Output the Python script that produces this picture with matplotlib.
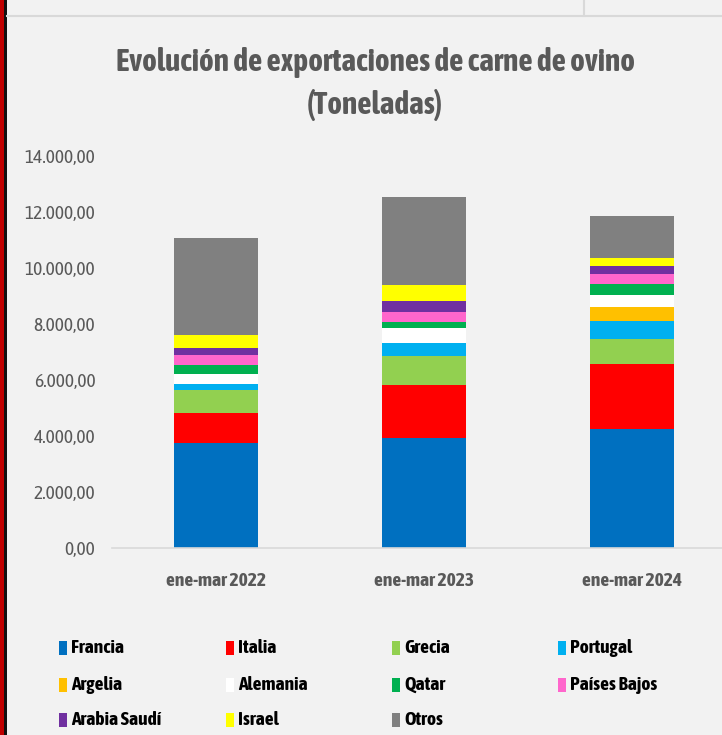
import matplotlib
matplotlib.use("Agg")
import matplotlib.pyplot as plt
from matplotlib.patches import Rectangle
from matplotlib.lines import Line2D
from matplotlib.ticker import FuncFormatter

plt.rcParams['font.family'] = ['Asap Condensed', 'Carlito', 'DejaVu Sans']

categories = ["ene-mar 2022", "ene-mar 2023", "ene-mar 2024"]
series_names = ["Francia", "Italia", "Grecia", "Portugal", "Argelia", "Alemania",
                "Qatar", "Países Bajos", "Arabia Saudí", "Israel", "Otros"]
francia = [3740, 3917, 4238]
italia = [1095, 1893, 2345]
grecia = [810, 1047, 893]
portugal = [225, 464, 643]
argelia = [0, 0, 488]
alemania = [345, 536, 417]
qatar = [335, 214, 393]
paises_bajos = [357, 358, 381]
arabia_saudi = [238, 381, 285]
israel = [453, 595, 286]
otros = [3464, 3119, 1476]
series_values = [francia, italia, grecia, portugal, argelia, alemania,
                 qatar, paises_bajos, arabia_saudi, israel, otros]
colors = ["#0070c0", "#ff0000", "#92d050", "#00b0f0", "#ffc000", "#ffffff",
          "#00b050", "#ff66cc", "#7030a0", "#ffff00", "#808080"]
yticks = [0, 2000, 4000, 6000, 8000, 10000, 12000, 14000]

W, H = 722, 735
fig = plt.figure(figsize=(W / 100, H / 100), dpi=100)
fig.patch.set_facecolor("#f2f2f2")

ax = fig.add_axes([112 / W, (H - 548) / H, (W - 112) / W, (548 - 156) / H])
ax.set_facecolor("#f2f2f2")

x = list(range(len(categories)))
bottom = [0] * len(categories)
for name, vals, c in zip(series_names, series_values, colors):
    ax.bar(x, vals, width=0.4, bottom=bottom, color=c, label=name, linewidth=0)
    bottom = [b + v for b, v in zip(bottom, vals)]

ax.set_xlim(-0.5, 2.5 - 14 / 208)
ax.set_ylim(0, 14000)
ax.set_yticks(yticks)
ax.yaxis.set_major_formatter(FuncFormatter(
    lambda v, p: f"{v:,.2f}".replace(",", "X").replace(".", ",").replace("X", ".")))
ax.set_xticks(x)
ax.set_xticklabels(categories, fontsize=14, fontweight="bold", color="#595959")
for lab in ax.get_yticklabels():
    lab.set_fontsize(14)
    lab.set_color("#595959")
ax.tick_params(axis="both", length=0)
ax.tick_params(axis="x", pad=17)
ax.tick_params(axis="y", pad=12)
for s in ["top", "right", "left"]:
    ax.spines[s].set_visible(False)
ax.spines["bottom"].set_color("#d9d9d9")
ax.spines["bottom"].set_linewidth(1.2)

fig.text(375 / W, 1 - 62 / H, "Evolución de exportaciones de carne de ovino",
         ha="center", va="center", fontsize=22.5, fontweight="bold", color="#595959")
fig.text(375 / W, 1 - 105 / H, "(Toneladas)",
         ha="center", va="center", fontsize=22.5, fontweight="bold", color="#595959")

# legend: 4 columns, filled row by row
col_x = [59, 226, 392, 558]
row_y = [648, 685, 720]
for i, (name, c) in enumerate(zip(series_names, colors)):
    cx = col_x[i % 4]
    cy = row_y[i // 4]
    fig.add_artist(Rectangle((cx / W, 1 - (cy + 7) / H), 8 / W, 14 / H,
                             transform=fig.transFigure, facecolor=c, edgecolor="none"))
    fig.text((cx + 12) / W, 1 - cy / H, name, ha="left", va="center",
             fontsize=14, fontweight="bold", color="black")

# spreadsheet frame decorations
fig.add_artist(Rectangle((0, 0), 4 / W, 1, transform=fig.transFigure,
                         facecolor="#c00000", edgecolor="none"))
fig.add_artist(Rectangle((4 / W, 0), 3 / W, 1, transform=fig.transFigure,
                         facecolor="#111111", edgecolor="none"))
fig.add_artist(Line2D([7 / W, 1], [1 - 16 / H, 1 - 16 / H], transform=fig.transFigure,
                      color="#d9d9d9", linewidth=1.5))
fig.add_artist(Line2D([584 / W, 584 / W], [1 - 16 / H, 1], transform=fig.transFigure,
                      color="#d9d9d9", linewidth=1.5))

fig.savefig("out.png", dpi=100, facecolor=fig.get_facecolor())
